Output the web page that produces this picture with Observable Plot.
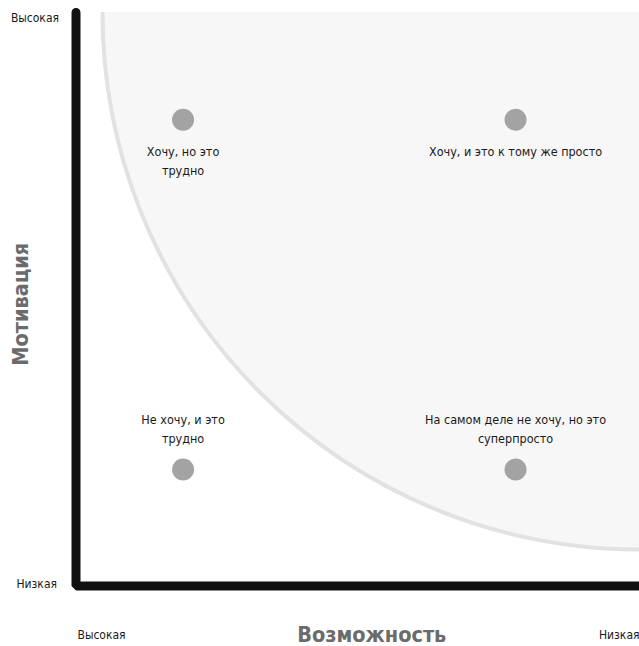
<!DOCTYPE html>
<html>
<head>
<meta charset="utf-8">
<script src="https://cdn.jsdelivr.net/npm/d3@7"></script>
<script src="https://cdn.jsdelivr.net/npm/@observablehq/plot@0.6"></script>
<style>
  html, body { margin: 0; padding: 0; background: #fff; }
  #chart svg { display: block; }
</style>
</head>
<body>
<div id="chart"></div>
<script>
// Quadrant labels and positions (ability: high at left, motivation: high at top)
const quadrantLabels = [
  "Хочу, но это\nтрудно",
  "Хочу, и это к тому же просто",
  "Не хочу, и это\nтрудно",
  "На самом деле не хочу, но это\nсуперпросто"
];
const ability = [8.1, 2.2, 8.1, 2.2];
const motivation = [8.13, 8.13, 2.03, 2.03];
const labelSide = ["below", "below", "above", "above"];
const tickHigh = "Высокая";
const tickLow = "Низкая";
const titleY = "Мотивация";
const titleX = "Возможность";

const points = quadrantLabels.map((label, i) => ({
  label, ability: ability[i], motivation: motivation[i], side: labelSide[i]
}));
const axisPath = [
  {ability: 10, motivation: 10},
  {ability: 10, motivation: 0},
  {ability: 0, motivation: 0}
];
const zoneCenter = [{ability: 0, motivation: 10}];

const font = "'Liberation Sans Narrow', 'DejaVu Sans Condensed', 'Roboto', sans-serif";

const chart = Plot.plot({
  width: 639,
  height: 646,
  marginLeft: 75.5,
  marginRight: 0,
  marginTop: 12,
  marginBottom: 60.5,
  x: {domain: [10, 0], axis: null},
  y: {domain: [0, 10], axis: null},
  style: {fontFamily: font, background: "#fff"},
  marks: [
    Plot.dot(zoneCenter, {x: "ability", y: "motivation", r: 537, fill: "#f7f7f7", stroke: "#e2e2e2", strokeWidth: 4, clip: "frame"}),
    Plot.line(axisPath, {x: "ability", y: "motivation", stroke: "#111", strokeWidth: 9, strokeLinejoin: "miter"}),
    Plot.dot(points, {x: "ability", y: "motivation", r: 11, fill: "#a3a3a3"}),
    Plot.text(points.filter(d => d.side === "below"), {x: "ability", y: "motivation", text: "label", lineAnchor: "top", dy: 23, fontSize: 12.5, lineHeight: 1.5, fill: "#1a1a1a"}),
    Plot.text(points.filter(d => d.side === "above"), {x: "ability", y: "motivation", text: "label", lineAnchor: "bottom", dy: -27, fontSize: 12.5, lineHeight: 1.5, fill: "#1a1a1a"}),
    // axis end labels
    Plot.text([tickHigh], {x: 10, y: 10, text: d => d, textAnchor: "end", lineAnchor: "top", dx: -17, dy: 1, fontSize: 12, fill: "#1a1a1a"}),
    Plot.text([tickLow], {x: 10, y: 0, text: d => d, textAnchor: "end", lineAnchor: "bottom", dx: -19, dy: 1.5, fontSize: 12, fill: "#1a1a1a"}),
    Plot.text([tickHigh], {x: 10, y: 0, text: d => d, textAnchor: "start", lineAnchor: "bottom", dx: 1.5, dy: 52.5, fontSize: 12, fill: "#1a1a1a"}),
    Plot.text([tickLow], {x: 0, y: 0, text: d => d, textAnchor: "end", lineAnchor: "bottom", dx: 0, dy: 52.5, fontSize: 12, fill: "#1a1a1a"}),
    // axis titles
    Plot.text([titleX], {frameAnchor: "bottom", text: d => d, textAnchor: "middle", lineAnchor: "bottom", dx: 14, dy: 55.5, fontSize: 21.5, fontWeight: "bold", fill: "#6b6b6b"}),
    Plot.text([titleY], {frameAnchor: "left", text: d => d, rotate: -90, textAnchor: "middle", lineAnchor: "middle", dx: -55, dy: 5, fontSize: 21.5, fontWeight: "bold", fill: "#6b6b6b"})
  ]
});
document.getElementById("chart").appendChild(chart);
</script>
</body>
</html>
